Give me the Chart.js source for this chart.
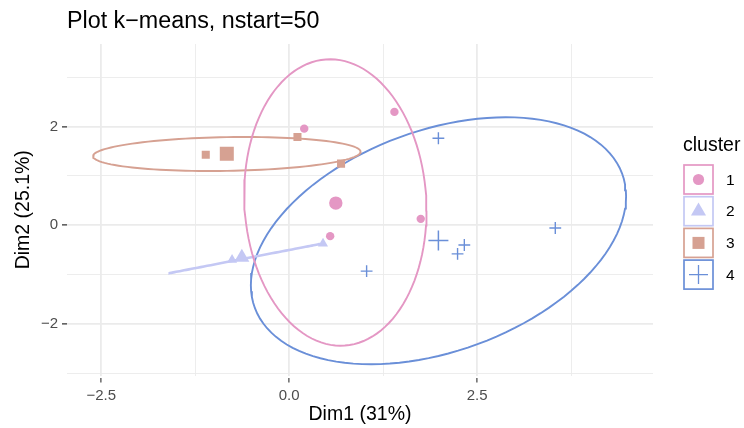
<!DOCTYPE html>
<html lang="en">
  <head>
    <meta charset="UTF-8" />
    <title>Plot k-means, nstart=50</title>
    <script src="https://cdn.jsdelivr.net/npm/chart.js"></script>
    <style>
      body { margin: 0; background: #fff; }
      #wrap { width: 744px; height: 428px; }
    </style>
  </head>
  <body>
    <div id="wrap"><canvas id="kmeans" width="744" height="428"></canvas></div>
    <script>
      // cluster labels + colours
      const clusters = ["1", "2", "3", "4"];
      const colors = ["#E497C4", "#C4C8F4", "#D6A192", "#6A8FD8"];
      const shapes = ["circle", "triangle", "rect", "cross"];

      // individual points (Dim1, Dim2)
      const c1X = [0.2, 1.4, 1.75, 0.545];
      const c1Y = [1.96, 2.3, 0.13, -0.22];
      const c2X = [-0.76, 0.45];
      const c2Y = [-0.7, -0.37];
      const c3X = [-1.11, 0.11, 0.69];
      const c3Y = [1.43, 1.79, 1.25];
      const c4X = [1.985, 2.33, 2.24, 3.54, 1.03];
      const c4Y = [1.765, -0.4, -0.58, -0.055, -0.93];

      // cluster centres
      const centerX = [0.62, -0.63, -0.83, 1.985];
      const centerY = [0.45, -0.65, 1.45, -0.31];

      // ellipse per cluster: centre, half-extent in x / y, correlation
      const ellCx = [0.614, -0.59, -0.83, 1.986];
      const ellCy = [0.462, -0.675, 1.446, -0.314];
      const ellSx = [1.213, 1.0, 1.78, 2.496];
      const ellSy = [2.905, 0.295, 0.345, 2.505];
      const ellRho = [-0.057, 1.0, 0.13, 0.36];

      // axes
      const xTickValues = [-2.5, 0, 2.5];
      const xMinorValues = [-1.25, 1.25, 3.75];
      const yTickValues = [-2, 0, 2];
      const yMinorValues = [-3, -1, 1, 3];
      const xRange = [-2.956, 4.84];
      const yRange = [-3.047, 3.677];

      const FONT = "'Liberation Sans', Arial, Helvetica, sans-serif";
      const pointsX = [c1X, c2X, c3X, c4X];
      const pointsY = [c1Y, c2Y, c3Y, c4Y];
      const smallR = [4.2, 5.8, 5.7, 5.9];
      const bigR = [6.7, 8.7, 9.9, 10];

      function fmt(v, d) {
        return (v < 0 ? "\u2212" : "") + Math.abs(v).toFixed(d);
      }

      function ellipsePoints(i) {
        const pts = [];
        const k = Math.sqrt(Math.max(0, 1 - ellRho[i] * ellRho[i]));
        for (let s = 0; s <= 120; s++) {
          const t = (s / 120) * Math.PI * 2;
          pts.push({
            x: ellCx[i] + ellSx[i] * Math.cos(t),
            y: ellCy[i] + ellSy[i] * (ellRho[i] * Math.cos(t) + k * Math.sin(t)),
          });
        }
        return pts;
      }

      const datasets = [];
      clusters.forEach((c, i) => {
        datasets.push({
          label: "ellipse " + c,
          data: ellipsePoints(i),
          showLine: true,
          borderColor: colors[i],
          borderWidth: i === 1 ? 2.6 : 1.9,
          pointRadius: 0,
          tension: 0,
          fill: false,
          order: 3,
        });
        datasets.push({
          label: c,
          data: pointsX[i].map((x, j) => ({ x: x, y: pointsY[i][j] })),
          pointStyle: shapes[i],
          pointRadius: smallR[i],
          backgroundColor: colors[i],
          borderColor: colors[i],
          borderWidth: shapes[i] === "cross" ? 1.4 : 0,
          order: 2,
        });
        datasets.push({
          label: "centre " + c,
          data: [{ x: centerX[i], y: centerY[i] }],
          pointStyle: shapes[i],
          pointRadius: bigR[i],
          backgroundColor: colors[i],
          borderColor: colors[i],
          borderWidth: shapes[i] === "cross" ? 1.5 : 0,
          order: 1,
        });
      });

      function gridFor(majors) {
        const isMajor = (ctx) => ctx.tick && majors.includes(ctx.tick.value);
        return {
          color: "#EBEBEB",
          lineWidth: (ctx) => (isMajor(ctx) ? 1.8 : 0.9),
          tickColor: (ctx) => (isMajor(ctx) ? "#333333" : "rgba(0,0,0,0)"),
          tickLength: 7,
          tickWidth: 1.1,
          tickBorderDash: [0, 2, 10, 100],
        };
      }

      // title, axis titles and legend drawn beside the panel
      const decorations = {
        id: "decorations",
        afterDraw(chart) {
          const ctx = chart.ctx;
          const area = chart.chartArea;
          ctx.save();
          ctx.fillStyle = "#000";
          ctx.textBaseline = "alphabetic";
          ctx.textAlign = "left";
          ctx.font = "23.3px " + FONT;
          ctx.fillText("Plot k\u2212means, nstart=50", area.left, 28);

          ctx.font = "19.5px " + FONT;
          ctx.textAlign = "center";
          ctx.textBaseline = "middle";
          ctx.fillText("Dim1 (31%)", (area.left + area.right) / 2, 415);
          ctx.save();
          ctx.translate(24, (area.top + area.bottom) / 2);
          ctx.rotate(-Math.PI / 2);
          ctx.fillText("Dim2 (25.1%)", 0, 0);
          ctx.restore();

          // legend
          ctx.textAlign = "left";
          ctx.textBaseline = "alphabetic";
          ctx.fillText("cluster", 683, 151);
          const legendR = [5.6, 8.7, 8.5, 9.5];
          clusters.forEach((c, i) => {
            const bx = 684, by = 165 + i * 31.7, bs = 29;
            const cx = bx + bs / 2, cy = by + bs / 2;
            ctx.fillStyle = "#fff";
            ctx.fillRect(bx, by, bs, bs);
            ctx.strokeStyle = colors[i];
            ctx.lineWidth = 1.7;
            ctx.strokeRect(bx, by, bs, bs);
            ctx.fillStyle = colors[i];
            const r = legendR[i];
            ctx.beginPath();
            if (shapes[i] === "circle") {
              ctx.arc(cx, cy, r, 0, Math.PI * 2);
              ctx.fill();
            } else if (shapes[i] === "triangle") {
              ctx.moveTo(cx, cy - r);
              ctx.lineTo(cx + r * 0.866, cy + r * 0.5);
              ctx.lineTo(cx - r * 0.866, cy + r * 0.5);
              ctx.closePath();
              ctx.fill();
            } else if (shapes[i] === "rect") {
              const h = r * Math.SQRT1_2;
              ctx.fillRect(cx - h, cy - h, 2 * h, 2 * h);
            } else {
              ctx.lineWidth = 1.3;
              ctx.moveTo(cx - r, cy);
              ctx.lineTo(cx + r, cy);
              ctx.moveTo(cx, cy - r);
              ctx.lineTo(cx, cy + r);
              ctx.stroke();
            }
            ctx.fillStyle = "#000";
            ctx.font = "15.5px " + FONT;
            ctx.textBaseline = "middle";
            ctx.fillText(c, 726, cy + 1);
            ctx.textBaseline = "alphabetic";
            ctx.font = "19.5px " + FONT;
          });
          ctx.restore();
        },
      };

      new Chart(document.getElementById("kmeans"), {
        type: "scatter",
        data: { datasets: datasets },
        options: {
          responsive: false,
          animation: false,
          devicePixelRatio: 1,
          layout: { padding: { top: 44, right: 91, bottom: 0, left: 0 } },
          plugins: {
            legend: { display: false },
            tooltip: { enabled: false },
            title: { display: false },
          },
          scales: {
            x: {
              type: "linear",
              min: xRange[0],
              max: xRange[1],
              afterBuildTicks: (s) => {
                s.ticks = xTickValues.concat(xMinorValues).sort((a, b) => a - b).map((v) => ({ value: v }));
              },
              afterFit: (s) => { s.height = 52.5; },
              ticks: {
                autoSkip: false,
                maxRotation: 0,
                padding: 4,
                color: "#4D4D4D",
                font: { size: 15, family: FONT },
                callback: (v) => (xTickValues.includes(v) ? fmt(v, 1) : ""),
              },
              grid: gridFor(xTickValues),
              border: { display: false },
            },
            y: {
              type: "linear",
              min: yRange[0],
              max: yRange[1],
              afterBuildTicks: (s) => {
                s.ticks = yTickValues.concat(yMinorValues).sort((a, b) => a - b).map((v) => ({ value: v }));
              },
              afterFit: (s) => { s.width = 67; },
              ticks: {
                autoSkip: false,
                padding: 2,
                color: "#4D4D4D",
                font: { size: 15, family: FONT },
                callback: (v) => (yTickValues.includes(v) ? fmt(v, 0) : ""),
              },
              grid: gridFor(yTickValues),
              border: { display: false },
            },
          },
        },
        plugins: [decorations],
      });
    </script>
  </body>
</html>
